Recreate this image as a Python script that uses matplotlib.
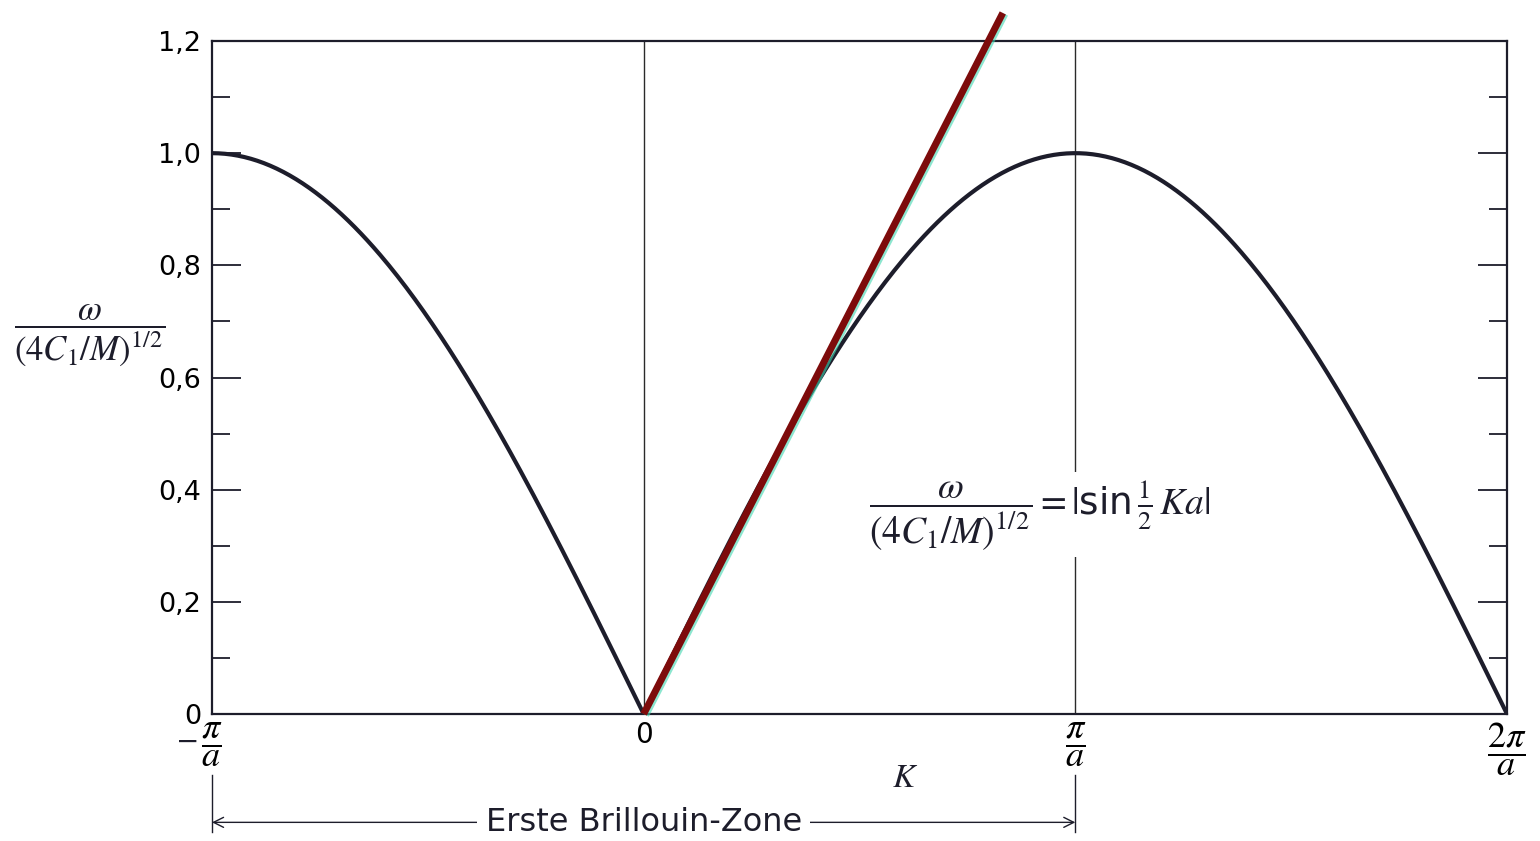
import numpy as np
import matplotlib
matplotlib.use("Agg")
import matplotlib.pyplot as plt
import matplotlib.patheffects as pe
from matplotlib.transforms import blended_transform_factory

plt.rcParams["mathtext.fontset"] = "stix"
plt.rcParams["font.family"] = ["DejaVu Sans"]

# wave vector in units of pi/a
k_ticks = [-1, 0, 1, 2]
k_tick_labels = [r"$\dfrac{\pi}{a}$", "0", r"$\dfrac{\pi}{a}$", r"$\dfrac{2\pi}{a}$"]
w_ticks = [0.0, 0.2, 0.4, 0.6, 0.8, 1.0, 1.2]
w_tick_labels = ["0", "0,2", "0,4", "0,6", "0,8", "1,0", "1,2"]
w_minor = [0.1, 0.3, 0.5, 0.7, 0.9, 1.1]
zone_edges = [-1, 1]
guide_lines = [0, 1]

# long-wavelength tangent drawn over the dispersion curve
tangent_k = [0.0, 0.832]
tangent_w = [0.0, 1.25]

# dispersion relation w / (4C1/M)^1/2 = |sin(Ka/2)|
k = np.linspace(-1, 2, 601)
w = np.abs(np.sin(0.5 * np.pi * k))

fig = plt.figure(figsize=(15.4, 8.41), dpi=100)
ax = fig.add_axes([212 / 1540, 1 - 714 / 841, 1295 / 1540, 673 / 841])

ink = "#1d1d2b"
ax.plot(k, w, color=ink, lw=3.0, solid_capstyle="round", zorder=3)
for g in guide_lines:
    ax.axvline(g, color="#2a2a2a", lw=1.0, zorder=1)

ax.plot(tangent_k, tangent_w, color="#7d0b0b", lw=5.0, clip_on=False,
        solid_capstyle="butt", zorder=4,
        path_effects=[pe.SimpleLineShadow(offset=(1.5, -0.8), shadow_color="#3fd6b0", alpha=0.6),
                      pe.Normal()])

ax.set_xlim(-1, 2)
ax.set_ylim(0, 1.2)
for s in ax.spines.values():
    s.set_linewidth(1.6)
    s.set_color(ink)

ax.set_yticks(w_ticks)
ax.set_yticklabels(w_tick_labels, fontsize=19.5)
ax.set_yticks(w_minor, minor=True)
ax.tick_params(axis="y", which="both", direction="in", left=True, right=True,
               color=ink, width=1.3, pad=8)
ax.tick_params(axis="y", which="major", length=21)
ax.tick_params(axis="y", which="minor", length=13)

ax.set_xticks(k_ticks)
ax.set_xticklabels(k_tick_labels, fontsize=26)
ax.tick_params(axis="x", length=0, pad=5)
for lab in ax.get_xticklabels():
    if lab.get_text() == "0":
        lab.set_fontsize(20)
ax.text(-1.03, -0.05, "\u2212", fontsize=20, ha="right", va="center", color=ink)

# axis titles
fig.text(90 / 1540, 1 - 335 / 841, r"$\dfrac{\omega}{(4C_1/M)^{1/2}}$",
         fontsize=25, ha="center", va="center", color=ink)
ax.text(0.639, 0.296, r"$\dfrac{\omega}{(4C_1/M)^{1/2}} = |$sin$\,\frac{1}{2}\,Ka|$",
        transform=ax.transAxes, fontsize=27, ha="center", va="center", color=ink,
        bbox=dict(facecolor="white", edgecolor="none", pad=4), zorder=5)
ax.text(0.535, -0.095, r"$K$", transform=ax.transAxes, fontsize=24,
        ha="center", va="center", color=ink)

# first Brillouin zone marker
tr = blended_transform_factory(ax.transData, ax.transAxes)
for e in zone_edges:
    ax.plot([e, e], [-0.09, -0.176], color=ink, lw=1.0, transform=tr, clip_on=False)
ax.annotate("", xy=(zone_edges[0], -0.161), xytext=(zone_edges[1], -0.161),
            xycoords=tr, textcoords=tr, annotation_clip=False,
            arrowprops=dict(arrowstyle="<->", color=ink, lw=1.0, shrinkA=0, shrinkB=0,
                            mutation_scale=18))
ax.text(0.0, -0.161, "Erste Brillouin-Zone", transform=tr, fontsize=23,
        ha="center", va="center", color=ink,
        bbox=dict(facecolor="white", edgecolor="none", pad=6))

fig.savefig("out.png", dpi=100, facecolor="white")
